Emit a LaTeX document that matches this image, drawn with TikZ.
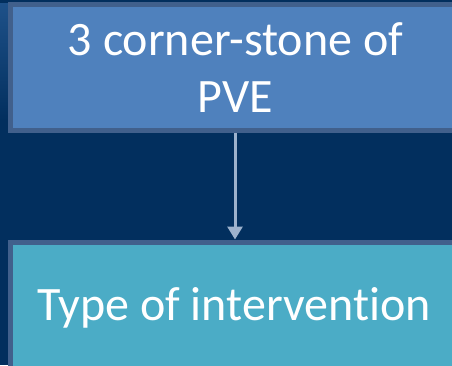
\documentclass[tikz,border=0pt]{standalone}
\usepackage{fontspec}
\setmainfont[Ligatures={NoCommon}]{Carlito}
\usetikzlibrary{arrows.meta}
\definecolor{bgnavy}{HTML}{022F5E}
\definecolor{bgblue}{HTML}{1E5189}
\definecolor{topfill}{HTML}{4F81BD}
\definecolor{botfill}{HTML}{4BACC6}
\definecolor{rim}{HTML}{41608C}
\definecolor{arrowgray}{HTML}{9DB2CD}
\tikzset{
  card/.style={draw=rim, line width=5pt, inner sep=0pt},
  label/.style={text=white, align=center, inner sep=0pt, anchor=base,
    font=\fontsize{48}{57}\selectfont},
  flow/.style={draw=arrowgray, line width=3pt,
    -{Triangle[length=13pt,width=15pt]}}
}
\begin{document}
\begin{tikzpicture}[x=1pt,y=1pt]
\useasboundingbox (0,0) rectangle (452,-365);
\clip (0,0) rectangle (452,-365);
\fill[bgnavy] (0,0) rectangle (452,-365);
\shade[top color=bgblue, bottom color=bgnavy] (0,-3) rectangle (8,-120);
% top box
\node[card, fill=topfill, minimum width=449pt, minimum height=126pt]
  (top) at (235,-67.5) {};
\node[label] (toptext) at (235.5,-112) {3 corner-stone of\\PVE};
% bottom box
\node[card, fill=botfill, minimum width=449pt, minimum height=140pt, anchor=north]
  (bot) at (235,-239.5) {};
\node[label] (bottext) at (234,-320) {Type of intervention};
\draw[flow] (top.south) -- (bot.north);
\end{tikzpicture}
\end{document}
